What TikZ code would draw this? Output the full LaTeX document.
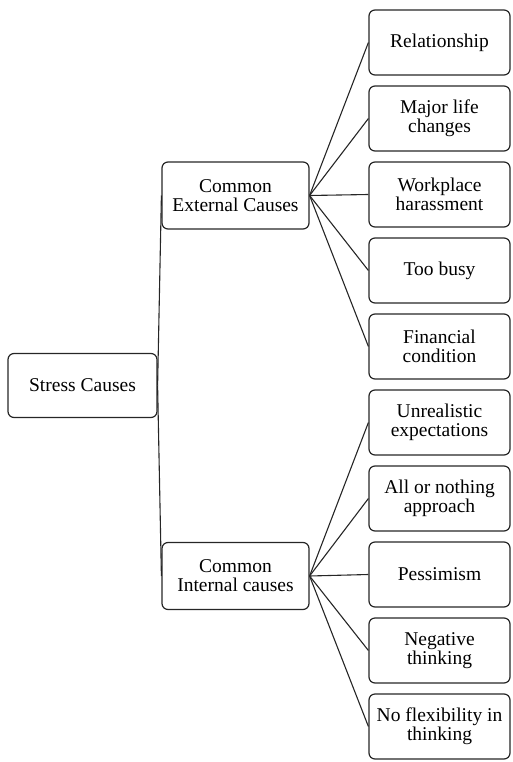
\documentclass[tikz,border=0pt]{standalone}
\usepackage{fontspec}
\setmainfont{Liberation Serif}
\begin{document}
\begin{tikzpicture}[x=1pt,y=-1pt,
  box/.style={draw=black!85, line width=1.2pt, rounded corners=6pt, align=center,
    inner sep=0pt, font=\fontsize{19.5}{19}\selectfont},
  rootbox/.style={box, minimum width=149pt, minimum height=64pt},
  midbox/.style={box, minimum width=147pt, minimum height=67pt},
  leaf/.style={box, minimum width=141pt, minimum height=65pt},
  link/.style={draw=black!85, line width=1.1pt}]
\useasboundingbox (0,0) rectangle (513,762);
\node[rootbox] (root) at (82.5,385.5) {Stress Causes};
\node[midbox] (ext) at (235.5,195.5) {Common\\External Causes};
\node[midbox] (int) at (235.5,576) {Common\\Internal causes};
\node[leaf] (l1) at (439.5,42.5) {Relationship};
\node[leaf] (l2) at (439.5,118.5) {Major life\\changes};
\node[leaf] (l3) at (439.5,194.5) {Workplace\\harassment};
\node[leaf] (l4) at (439.5,270.5) {Too busy};
\node[leaf] (l5) at (439.5,346.5) {Financial\\condition};
\node[leaf] (l6) at (439.5,422.5) {Unrealistic\\expectations};
\node[leaf] (l7) at (439.5,498.5) {All or nothing\\approach};
\node[leaf] (l8) at (439.5,574.5) {Pessimism};
\node[leaf] (l9) at (439.5,650.5) {Negative\\thinking};
\node[leaf] (l10) at (439.5,726.5) {No flexibility in\\thinking};
\draw[link] (root.east) -- (ext.west);
\draw[link] (root.east) -- (int.west);
\foreach \i in {1,...,5} {\draw[link] (ext.east) -- (l\i.west);}
\foreach \i in {6,...,10} {\draw[link] (int.east) -- (l\i.west);}
\end{tikzpicture}
\end{document}
